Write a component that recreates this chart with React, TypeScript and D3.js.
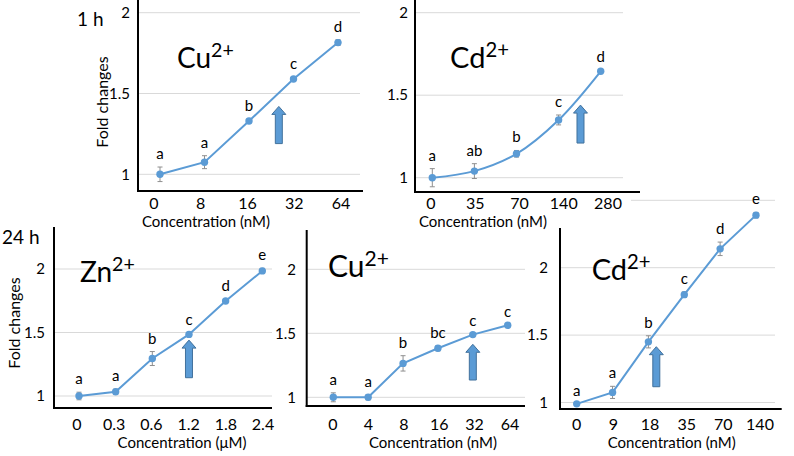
import React from 'react';
import * as d3 from 'd3';

// shared look
const FONT = 'Lato, "Open Sans", sans-serif';
const LINE_COLOR = '#5b9bd5';
const ARROW_FILL = '#5b9bd5';
const ARROW_STROKE = '#41719c';
const GRID_COLOR = '#d9d9d9';
const ERR_COLOR = '#8f8f8f';

// ---- 1 h, Cu2+ ----
const CU1_CATS = ['0', '8', '16', '32', '64'];
const CU1_VALUES = [1.0, 1.075, 1.33, 1.59, 1.815];
const CU1_ERRORS = [0.045, 0.04, 0.012, 0.015, 0.018];
const CU1_LETTERS = ['a', 'a', 'b', 'c', 'd'];

// ---- 1 h, Cd2+ ----
const CD1_CATS = ['0', '35', '70', '140', '280'];
const CD1_VALUES = [1.0, 1.04, 1.145, 1.35, 1.645];
const CD1_ERRORS = [0.055, 0.045, 0.02, 0.03, 0.005];
const CD1_LETTERS = ['a', 'ab', 'b', 'c', 'd'];

// ---- 24 h, Zn2+ ----
const ZN24_CATS = ['0', '0.3', '0.6', '1.2', '1.8', '2.4'];
const ZN24_VALUES = [1.0, 1.034, 1.295, 1.485, 1.748, 1.985];
const ZN24_ERRORS = [0.03, 0.02, 0.055, 0.01, 0.012, 0.02];
const ZN24_LETTERS = ['a', 'a', 'b', 'c', 'd', 'e'];

// ---- 24 h, Cu2+ ----
const CU24_CATS = ['0', '4', '8', '16', '32', '64'];
const CU24_VALUES = [1.0, 1.0, 1.265, 1.383, 1.49, 1.563];
const CU24_ERRORS = [0.035, 0.02, 0.06, 0.02, 0.005, 0];
const CU24_LETTERS = ['a', 'a', 'b', 'bc', 'c', 'c'];

// ---- 24 h, Cd2+ ----
const CD24_CATS = ['0', '9', '18', '35', '70', '140'];
const CD24_VALUES = [0.99, 1.075, 1.45, 1.8, 2.14, 2.39];
const CD24_ERRORS = [0, 0.045, 0.045, 0.02, 0.05, 0.02];
const CD24_LETTERS = ['a', 'a', 'b', 'c', 'd', 'e'];

const Y_TICKS = [1, 1.5, 2];
const Y_TICKS_TALL = [1, 1.5, 2, 2.5];

type PanelCfg = {
  cats: string[];
  values: number[];
  errors: number[];
  letters: string[];
  ion: string;
  unit: string;
  ticks: number[];
  gridTicks: number[];
  // layout (pixels)
  y1px: number;          // pixel of value 1
  y2px: number;          // pixel of value 2
  axisX: number;
  axisTop: number;
  axisBottom: number;
  axisRight: number;
  gridRight: number;
  pointRange: [number, number];
  labelRange: [number, number];
  tickBaseline: number;
  titleX: number;
  titleBaseline: number;
  yTickX: number;
  ionX: number;
  ionBaseline: number;
  ionSize: number;
  arrowAt: number;       // fractional category index
  arrowTip: number;      // value units
  arrowBase: number;
  smooth?: boolean;
  bg?: [number, number, number, number];
};

function Panel({ cfg }: { cfg: PanelCfg }) {
  const y = d3.scaleLinear().domain([1, 2]).range([cfg.y1px, cfg.y2px]);
  const x = d3.scalePoint<string>().domain(cfg.cats).range(cfg.pointRange);
  const xl = d3.scalePoint<string>().domain(cfg.cats).range(cfg.labelRange);
  const step = x.step();

  const line = d3.line<number>()
    .x((_, i) => x(cfg.cats[i]) as number)
    .y(d => y(d))
    .curve(cfg.smooth ? d3.curveCatmullRom.alpha(0.5) : d3.curveLinear);

  const ai = Math.floor(cfg.arrowAt);
  const ax = (x(cfg.cats[ai]) as number) + (cfg.arrowAt - ai) * step;
  const ty = y(cfg.arrowTip);
  const by = y(cfg.arrowBase);
  const arrow = `M${ax},${ty} L${ax + 7},${ty + 8} L${ax + 3.5},${ty + 8} L${ax + 3.5},${by} L${ax - 3.5},${by} L${ax - 3.5},${ty + 8} L${ax - 7},${ty + 8} Z`;

  return (
    <g fontFamily={FONT}>
      {cfg.bg && <rect x={cfg.bg[0]} y={cfg.bg[1]} width={cfg.bg[2]} height={cfg.bg[3]} fill="#fff" />}
      {cfg.gridTicks.map(t => (
        <line key={`g${t}`} x1={cfg.axisX} x2={cfg.gridRight}
          y1={y(t)} y2={y(t)} stroke={GRID_COLOR} strokeWidth={1} />
      ))}
      {cfg.ticks.map(t => (
        <text key={`t${t}`} x={cfg.yTickX} y={y(t)} dy="0.35em" textAnchor="end" fontSize={15} fill="#000">
          {String(t)}
        </text>
      ))}
      <line x1={cfg.axisX} x2={cfg.axisX} y1={cfg.axisTop} y2={cfg.axisBottom + 1} stroke="#000" strokeWidth={2} />
      <line x1={cfg.axisX - 1} x2={cfg.axisRight} y1={cfg.axisBottom} y2={cfg.axisBottom} stroke="#000" strokeWidth={2} />
      {cfg.cats.map(c => (
        <text key={`x${c}`} x={xl(c)} y={cfg.tickBaseline} textAnchor="middle" fontSize={16} fill="#000">{c}</text>
      ))}
      <text x={cfg.titleX} y={cfg.titleBaseline} textAnchor="middle" fontSize={15} fill="#000">
        {`Concentration (${cfg.unit})`}
      </text>
      <text x={cfg.ionX} y={cfg.ionBaseline} fontSize={cfg.ionSize} fill="#000">
        {cfg.ion}
        <tspan fontSize={cfg.ionSize * 0.7} dy={-cfg.ionSize * 0.38}>2+</tspan>
      </text>
      <path d={line(cfg.values) || ''} fill="none" stroke={LINE_COLOR} strokeWidth={2} />
      {cfg.values.map((v, i) => {
        const px = x(cfg.cats[i]) as number;
        const e = cfg.errors[i];
        return (
          <g key={`p${i}`}>
            {e > 0 && (
              <g stroke={ERR_COLOR} strokeWidth={1}>
                <line x1={px} x2={px} y1={y(v - e)} y2={y(v + e)} />
                <line x1={px - 2.5} x2={px + 2.5} y1={y(v - e)} y2={y(v - e)} />
                <line x1={px - 2.5} x2={px + 2.5} y1={y(v + e)} y2={y(v + e)} />
              </g>
            )}
            <circle cx={px} cy={y(v)} r={3.7} fill={LINE_COLOR} />
            <text x={px} y={y(v + e) - 8} textAnchor="middle" fontSize={15} fill="#000">{cfg.letters[i]}</text>
          </g>
        );
      })}
      <path d={arrow} fill={ARROW_FILL} stroke={ARROW_STROKE} strokeWidth={1} />
    </g>
  );
}

const panels: Record<string, PanelCfg> = {
  cu1: {
    cats: CU1_CATS, values: CU1_VALUES, errors: CU1_ERRORS, letters: CU1_LETTERS,
    ion: 'Cu', unit: 'nM', ticks: Y_TICKS, gridTicks: Y_TICKS,
    y1px: 174.3, y2px: 12.7, axisX: 138, axisTop: 0, axisBottom: 191, axisRight: 363, gridRight: 360,
    pointRange: [160, 338], labelRange: [154, 341], tickBaseline: 209,
    titleX: 206, titleBaseline: 227, yTickX: 130,
    ionX: 177, ionBaseline: 68, ionSize: 28,
    arrowAt: 2.67, arrowTip: 1.42, arrowBase: 1.19,
  },
  cd1: {
    cats: CD1_CATS, values: CD1_VALUES, errors: CD1_ERRORS, letters: CD1_LETTERS,
    ion: 'Cd', unit: 'nM', ticks: Y_TICKS, gridTicks: Y_TICKS,
    y1px: 177.7, y2px: 12.7, axisX: 415, axisTop: 0, axisBottom: 192, axisRight: 640, gridRight: 623,
    pointRange: [432.3, 600.7], labelRange: [431, 608], tickBaseline: 209,
    titleX: 483, titleBaseline: 227, yTickX: 408,
    ionX: 450, ionBaseline: 68, ionSize: 29,
    arrowAt: 3.52, arrowTip: 1.44, arrowBase: 1.21, smooth: true,
    bg: [372, 0, 259, 224],
  },
  zn24: {
    cats: ZN24_CATS, values: ZN24_VALUES, errors: ZN24_ERRORS, letters: ZN24_LETTERS,
    ion: 'Zn', unit: 'μM', ticks: Y_TICKS, gridTicks: Y_TICKS,
    y1px: 396, y2px: 269, axisX: 54, axisTop: 227, axisBottom: 408, axisRight: 272, gridRight: 272,
    pointRange: [79, 262.3], labelRange: [77, 263], tickBaseline: 430,
    titleX: 182, titleBaseline: 448, yTickX: 45,
    ionX: 80, ionBaseline: 282, ionSize: 28,
    arrowAt: 3, arrowTip: 1.44, arrowBase: 1.144,
  },
  cu24: {
    cats: CU24_CATS, values: CU24_VALUES, errors: CU24_ERRORS, letters: CU24_LETTERS,
    ion: 'Cu', unit: 'nM', ticks: Y_TICKS, gridTicks: Y_TICKS,
    y1px: 397.3, y2px: 269.3, axisX: 306.7, axisTop: 230, axisBottom: 406, axisRight: 525, gridRight: 525,
    pointRange: [333.3, 507.7], labelRange: [333, 510], tickBaseline: 430,
    titleX: 433, titleBaseline: 448, yTickX: 296,
    ionX: 328, ionBaseline: 277, ionSize: 30,
    arrowAt: 4, arrowTip: 1.414, arrowBase: 1.135,
  },
  cd24: {
    cats: CD24_CATS, values: CD24_VALUES, errors: CD24_ERRORS, letters: CD24_LETTERS,
    ion: 'Cd', unit: 'nM', ticks: Y_TICKS, gridTicks: Y_TICKS_TALL,
    y1px: 402.5, y2px: 267.7, axisX: 560, axisTop: 228, axisBottom: 409, axisRight: 781.7, gridRight: 775,
    pointRange: [576.7, 756], labelRange: [576.7, 760], tickBaseline: 430,
    titleX: 671.7, titleBaseline: 448, yTickX: 548,
    ionX: 591.7, ionBaseline: 280, ionSize: 29,
    arrowAt: 2.22, arrowTip: 1.414, arrowBase: 1.117,
  },
};

export default function App() {
  return (
    <svg width={794} height={456} viewBox="0 0 794 456"
      style={{ position: 'absolute', left: 0, top: 0, background: '#fff' }}>
      <rect width={794} height={456} fill="#fff" />
      <Panel cfg={panels.cd24} />
      <Panel cfg={panels.cu24} />
      <Panel cfg={panels.zn24} />
      <Panel cfg={panels.cu1} />
      <Panel cfg={panels.cd1} />
      <g fontFamily={FONT} fill="#000">
        <text x={77} y={26} fontSize={19}>1 h</text>
        <text x={2} y={244} fontSize={19}>24 h</text>
        <text transform="translate(108,102) rotate(-90)" textAnchor="middle" fontSize={16}>Fold changes</text>
        <text transform="translate(20,323) rotate(-90)" textAnchor="middle" fontSize={16}>Fold changes</text>
      </g>
    </svg>
  );
}
